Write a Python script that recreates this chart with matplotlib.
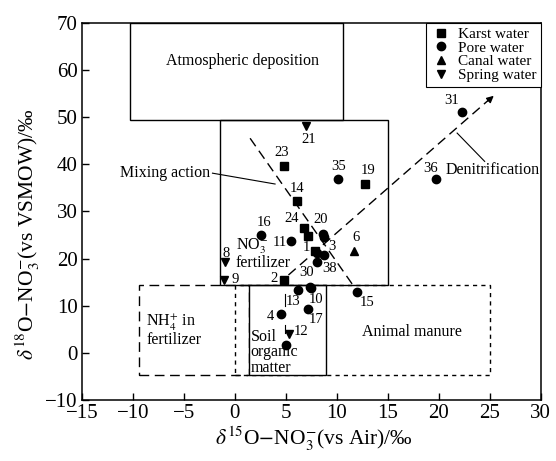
import matplotlib
matplotlib.use('Agg')
import matplotlib.pyplot as plt
from matplotlib.patches import Rectangle

plt.rcParams['font.family'] = ['Liberation Serif', 'DejaVu Serif']
plt.rcParams['mathtext.fontset'] = 'stix'

# Sample values (d15N, d18O) and their numbers
karst_x = [4.85, 12.77, 6.10, 6.79, 7.21, 7.87, 4.82]
karst_y = [39.7, 35.9, 32.3, 26.5, 24.7, 21.7, 15.4]
karst_id = ['23', '19', '14', '24', '', '1', '2']

pore_x = [10.10, 22.32, 19.77, 2.54, 5.54, 8.62, 8.78, 8.03, 8.78, 8.03, 11.96, 6.23, 7.37, 7.45, 4.53, 7.20, 5.00]
pore_y = [36.9, 51.1, 36.8, 24.9, 23.7, 25.3, 24.5, 21.2, 20.7, 19.3, 12.8, 13.4, 14.0, 13.8, 8.3, 9.3, 1.6]
pore_id = ['35', '31', '36', '16', '11', '20', '', '', '3', '38', '15', '13', '30', '10', '4', '17', '']

canal_x = [11.73]
canal_y = [21.7]
canal_id = ['6']

spring_x = [6.95, -0.94, -1.06, 5.34]
spring_y = [48.2, 19.2, 15.4, 3.9]
spring_id = ['21', '8', '9', '12']

# label offsets (pixels) for the sample numbers
offsets = {'23': (-3, 13), '19': (3, 13), '14': (0, 12), '24': (-12, 9), '1': (-9, 3), '2': (-10, 2),
           '35': (1, 12), '31': (-11, 11), '36': (-6, 11), '16': (3, 13), '11': (-12, -1), '20': (-2, 14),
           '3': (8, 9), '38': (13, -7), '15': (10, -10), '13': (-5, -12), '30': (-3, 14), '10': (5, -12),
           '4': (-11, -3), '17': (8, -11), '6': (2, 13), '21': (3, -14), '8': (1, 9), '9': (11, 1), '12': (12, 3)}

fig = plt.figure(figsize=(5.56, 4.61), dpi=100)
ax = fig.add_axes([0.1475, 0.1323, 0.825, 0.8184])

# source boxes
ax.add_patch(Rectangle((-10.3, 49.4), 20.9, 20.6, fill=False, ec='k', lw=1, zorder=1))
ax.add_patch(Rectangle((-1.5, 14.3), 16.5, 35.1, fill=False, ec='k', lw=1, zorder=1))
ax.add_patch(Rectangle((-9.4, -4.7), 10.8, 19.0, fill=False, ec='k', lw=1, ls=(0, (7, 4)), zorder=0.8))
ax.add_patch(Rectangle((0, -4.7), 25, 19.0, fill=False, ec='k', lw=1, ls=(0, (3, 3)), zorder=0.8))
ax.add_patch(Rectangle((1.4, -4.7), 7.5, 19.0, fc='white', ec='k', lw=1, zorder=0.9))

fs = 11.5
ax.text(0.7, 61.9, 'Atmospheric deposition', ha='center', va='center', fontsize=fs)
ax.text(0.1, 21.0, 'NO$_3^{-}$\nfertilizer', ha='left', va='center', fontsize=fs, linespacing=0.9)
ax.text(-8.7, 4.7, 'NH$_4^{+}$ in\nfertilizer', ha='left', va='center', fontsize=fs, linespacing=0.9)
ax.text(1.55, 0.1, 'Soil\norganic\nmatter', ha='left', va='center', fontsize=fs, linespacing=0.95)
ax.text(17.35, 4.4, 'Animal manure', ha='center', va='center', fontsize=fs)

# mixing line
ax.plot([1.49, 11.6], [45.5, 14.3], color='k', lw=1, ls=(0, (7, 4)), zorder=2)
ax.plot([-2.2, 3.94], [38.1, 35.8], color='k', lw=0.8, zorder=2)
ax.text(-2.4, 38.1, 'Mixing action', ha='right', va='center', fontsize=fs)

# denitrification line
ax.plot([5.25, 25.2], [16.5, 54.2], color='k', lw=1, ls=(0, (7, 4)), zorder=2)
ax.annotate('', xy=(25.6, 54.9), xytext=(24.6, 53.0),
            arrowprops=dict(arrowstyle='-|>', color='k', lw=1, mutation_scale=10))
ax.plot([21.8, 24.5], [46.6, 40.6], color='k', lw=0.8, zorder=2)
ax.text(25.3, 38.8, 'Denitrification', ha='center', va='center', fontsize=fs)

# short leaders under point 2
ax.plot([4.95, 4.95], [12.4, 9.9], color='k', lw=0.8)
ax.plot([4.95, 4.95], [6.0, 4.2], color='k', lw=0.8)

groups = [
    (karst_x, karst_y, karst_id, 's', 'Karst water', 5.5),
    (pore_x, pore_y, pore_id, 'o', 'Pore water', 6),
    (canal_x, canal_y, canal_id, '^', 'Canal water', 6),
    (spring_x, spring_y, spring_id, 'v', 'Spring water', 6),
]
for xs, ys, ids, m, name, ms in groups:
    ax.plot(xs, ys, ls='none', marker=m, color='k', ms=ms, label=name, zorder=3)
    for x, y, t in zip(xs, ys, ids):
        if t:
            ax.annotate(t, (x, y), xytext=offsets[t], textcoords='offset pixels',
                        ha='center', va='center', fontsize=10.5)

leg = ax.legend(loc='upper right', borderaxespad=0, frameon=True, fancybox=False,
                edgecolor='k', fontsize=11, handlelength=1.4, handletextpad=0.4,
                labelspacing=0.0, borderpad=0.3)
leg.get_frame().set_linewidth(0.8)
leg.get_frame().set_alpha(1)

ax.set_xlim(-15, 30)
ax.set_ylim(-10, 70)
ax.set_xticks(range(-15, 31, 5))
ax.set_yticks(range(-10, 71, 10))
ax.tick_params(direction='in', length=5, width=1, labelsize=15, top=False, right=False, pad=3)
for s in ax.spines.values():
    s.set_linewidth(1.1)

ax.set_xlabel(r'$\delta^{15}$O$-$NO$_3^{-}$(vs Air)/‰', fontsize=15.5)
ax.xaxis.set_label_coords(0.505, -0.065)
ax.set_ylabel(r'$\delta^{18}$O$-$NO$_3^{-}$(vs VSMOW)/‰', fontsize=15.5)
ax.yaxis.set_label_coords(-0.088, 0.44)

fig.savefig('out.png', dpi=100)
